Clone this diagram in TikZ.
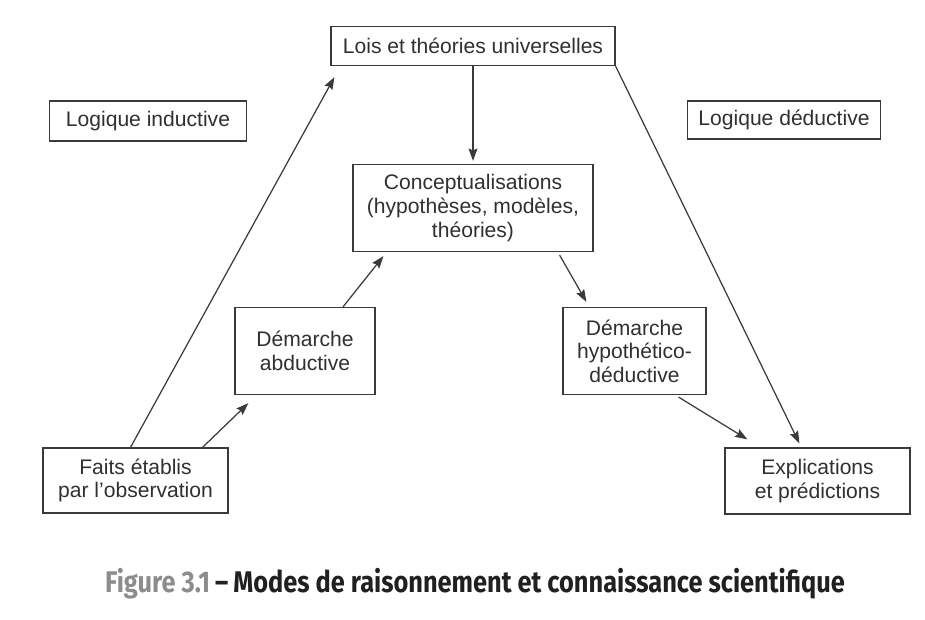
\documentclass[tikz,border=0pt]{standalone}
\usepackage{fontspec}
\setmainfont{Liberation Sans}
\newfontfamily\legende[FakeStretch=0.85]{Fira Sans}
\usepackage{xcolor}
\usetikzlibrary{arrows.meta,calc,positioning}
\definecolor{trait}{HTML}{3A3A3A}
\definecolor{texte}{HTML}{303030}
\definecolor{figgris}{HTML}{8C8C8C}
\definecolor{titre}{HTML}{202020}
\tikzset{
  boite/.style={draw=trait,line width=0.7pt,text=texte,align=center,inner sep=2pt,
    font=\fontsize{12}{13.4}\selectfont},
  fleche/.style={draw=trait,line width=0.7pt,-{Stealth[length=7pt,width=5pt,inset=1pt]}}
}
\begin{document}
\begin{tikzpicture}[x=0.02cm,y=-0.02cm]
\useasboundingbox (0,0) rectangle (925,619);
%Boites
\node[boite,minimum width=5.68cm,minimum height=0.78cm] (lois) at (473,46) {Lois et théories universelles};
\node[boite,minimum width=3.94cm,minimum height=0.80cm] (inductive) at (148,121) {Logique inductive};
\node[boite,minimum width=3.86cm,minimum height=0.76cm] (deductive) at (784,120) {Logique déductive};
\node[boite,minimum width=4.80cm,minimum height=1.74cm] (concept) at (473,208) {Conceptualisations\\(hypothèses, modèles,\\théories)};
\node[boite,minimum width=2.80cm,minimum height=1.74cm] (abductive) at (305,351) {Démarche\\abductive};
\node[boite,minimum width=2.86cm,minimum height=1.74cm] (hypo) at (634.5,351) {Démarche\\hypothético-\\déductive};
\node[boite,minimum width=3.70cm,minimum height=1.30cm] (faits) at (135.5,480.5) {Faits établis\\par l'observation};
\node[boite,minimum width=3.70cm,minimum height=1.32cm] (explic) at (817.5,481) {Explications\\et prédictions};
%Fleches
\draw[fleche] (lois.south) -- ($(concept.north)+(0,-3)$);
\draw[fleche] ($(faits.north)+(-5,0)$) -- ($(lois.south west)+(4,11)$);
\draw[fleche] ($(faits.north)+(67,0)$) -- ($(abductive.south west)+(14,8)$);
\draw[fleche] ($(abductive.north)+(38,0)$) -- ($(concept.south west)+(31,4)$);
\draw[fleche] ($(concept.south east)+(-34,3)$) -- ($(hypo.north west)+(24,-5)$);
\draw[fleche] ($(hypo.south east)+(-28,2)$) -- ($(explic.north west)+(23,-8)$);
\draw[fleche] (lois.south east) -- ($(explic.north west)+(75,-4)$);
%Legende
\node[font=\legende\bfseries\fontsize{17}{20}\selectfont,text=titre] (legende) at (475,584)
  {\textcolor{figgris}{Figure 3.1}\,–\,Modes de raisonnement et connaissance scientifique};
\end{tikzpicture}
\end{document}
